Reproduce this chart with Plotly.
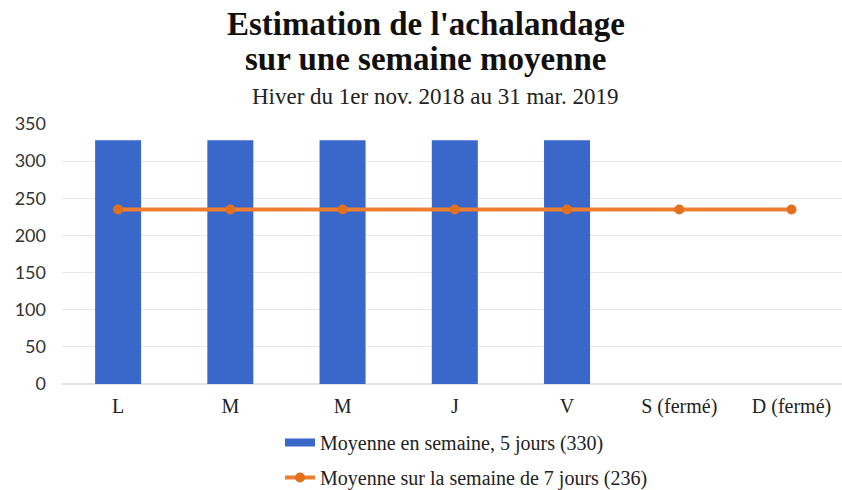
import plotly.graph_objects as go

categories = ["L", "M", "M", "J", "V", "S (fermé)", "D (fermé)"]
weekday_avg = [328, 328, 328, 328, 328, None, None]
week_avg = [235, 235, 235, 235, 235, 235, 235]
y_ticks = [0, 50, 100, 150, 200, 250, 300, 350]
bar_name = "Moyenne en semaine, 5 jours (330)"
line_name = "Moyenne sur la semaine de 7 jours (236)"

xs = list(range(len(categories)))
serif = "Liberation Serif, Times New Roman, serif"
BLUE = "#3A67CA"
ORANGE = "#ED7D31"

W, H = 842, 490
ML, MR, MT, MB = 62, 0, 124, 106
PH = H - MT - MB
PW = W - ML - MR

def py(ypix):
    return 1 + (MT - ypix) / PH

def px(xpix):
    return (xpix - ML) / PW

fig = go.Figure()
fig.add_trace(go.Bar(
    x=xs, y=weekday_avg, name=bar_name, showlegend=False,
    marker=dict(color=BLUE, line=dict(width=0)), width=0.41,
))
# legend entry for the bars (wide flat swatch like the original)
fig.add_trace(go.Scatter(
    x=[None], y=[None], name=bar_name, mode="lines",
    line=dict(color=BLUE, width=8), legendgroup="a",
))
fig.add_trace(go.Scatter(
    x=xs, y=week_avg, name=line_name, legendgroup="b",
    mode="lines+markers",
    line=dict(color=ORANGE, width=4),
    marker=dict(color="#E2711D", size=10, symbol="circle"),
))

title_x = px(426)
fig.update_layout(
    width=W, height=H,
    paper_bgcolor="white", plot_bgcolor="white",
    margin=dict(l=ML, r=MR, t=MT, b=MB, autoexpand=False),
    font=dict(family=serif, size=20, color="#222222"),
    annotations=[
        dict(text="<b>Estimation de l'achalandage</b>", x=title_x, xref="paper",
             y=py(24), yref="paper", yanchor="middle", xanchor="center",
             showarrow=False, font=dict(family=serif, size=33, color="#111111")),
        dict(text="<b>sur une semaine moyenne</b>", x=title_x, xref="paper",
             y=py(59), yref="paper", yanchor="middle", xanchor="center",
             showarrow=False, font=dict(family=serif, size=33, color="#111111")),
        dict(text="Hiver du 1er nov. 2018 au 31 mar. 2019", x=px(435), xref="paper",
             y=py(97), yref="paper", yanchor="middle", xanchor="center",
             showarrow=False, font=dict(family=serif, size=23, color="#222222")),
    ],
    showlegend=True,
    legend=dict(
        orientation="v", x=px(280), xanchor="left", y=py(423), yanchor="top",
        font=dict(family=serif, size=20, color="#222222"),
        tracegroupgap=6, bgcolor="rgba(0,0,0,0)",
    ),
)

fig.update_xaxes(
    tickmode="array", tickvals=xs, ticktext=categories,
    range=[-0.5, len(categories) - 0.55],
    showgrid=False, showline=False, zeroline=False, ticks="",
    ticklabelstandoff=8,
    tickfont=dict(family=serif, size=20, color="#222222"),
)
fig.update_yaxes(
    range=[0, 350], tickmode="array", tickvals=y_ticks,
    showgrid=True, gridcolor="#E8E8E8", gridwidth=1,
    zeroline=True, zerolinecolor="#E3E3E3", showline=False, ticks="",
    ticklabelstandoff=15,
    tickfont=dict(family="Lato, Open Sans, sans-serif", size=18, color="#333333"),
)

fig.write_html(
    "out.html",
    config={"displayModeBar": False},
    post_script="document.body.style.margin='0';document.body.style.padding='0';",
)
